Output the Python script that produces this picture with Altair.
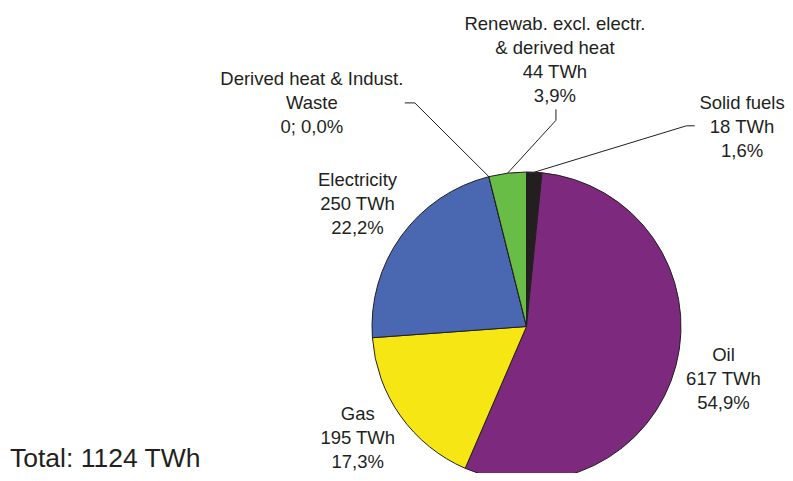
import math
import altair as alt
import pandas as pd

# ---- data ----
categories = ["Solid fuels", "Oil", "Gas", "Electricity",
              "Derived heat & Indust. Waste", "Renewab. excl. electr. & derived heat"]
values_twh = [18, 617, 195, 250, 0, 44]
label_texts = [
    "Solid fuels\n18 TWh\n1,6%",
    "Oil\n617 TWh\n54,9%",
    "Gas\n195 TWh\n17,3%",
    "Electricity\n250 TWh\n22,2%",
    "Derived heat & Indust.\nWaste\n0; 0,0%",
    "Renewab. excl. electr.\n& derived heat\n44 TWh\n3,9%",
]
total_text = "Total: 1124 TWh"

# ---- style / layout ----
colors = ["#231F20", "#7D2A7E", "#F6E614", "#4A67B1", "#FFFFFF", "#67BD45"]
CX, CY, R = 518.5, 318.5, 154.5
LH = 24
# label placement: (angle in degrees clockwise from 12 o'clock or None = slice middle, distance)
label_place = [(48.1, 299), (None, 203.5), (None, 207), (None, 208.5), (316.1, 309.6), (6.1, 267.7)]
# small nudges so that labels stay inside the page
label_nudge = [(-7, 0), (0, 1), (0, -8), (0, 0), (0, 0), (0, 0)]
# leader lines: (end offset, elbow offset) relative to label centre, or None
leader = [((-47.3, -1), (-55.7, -1)), None, None, None,
          ((93, -0.5), (103, -0.5)), ((1, 49), (1, 60))]

total = sum(values_twh)
df = pd.DataFrame({"cat": categories, "value": values_twh, "idx": range(len(categories))})

lab_rows, line_rows = [], []
cum = 0
for i, v in enumerate(values_twh):
    mid = (cum + v / 2) / total * 2 * math.pi
    cum += v
    ang, dist = label_place[i]
    a = mid if ang is None else math.radians(ang)
    lx = CX + dist * math.sin(a) + label_nudge[i][0]
    ly = CY - dist * math.cos(a) + label_nudge[i][1]
    n = label_texts[i].count("\n") + 1
    lab_rows.append({"text": label_texts[i], "x": lx, "y": ly - (n - 1) * LH / 2})
    if leader[i] is not None:
        (ex, ey), (bx, by) = leader[i]
        px, py = CX + R * math.sin(mid), CY - R * math.cos(mid)
        line_rows += [
            {"g": i, "o": 0, "x": lx + ex, "y": ly + ey},
            {"g": i, "o": 1, "x": lx + bx, "y": ly + by},
            {"g": i, "o": 2, "x": px, "y": py},
        ]

labels = pd.DataFrame(lab_rows)
lines = pd.DataFrame(line_rows)

pie = alt.Chart(df).mark_arc(outerRadius=R, stroke="#231F20", strokeWidth=1).encode(
    theta=alt.Theta("value:Q", stack=True),
    color=alt.Color("cat:N", scale=alt.Scale(domain=categories, range=colors), legend=None),
    order=alt.Order("idx:Q"),
    x=alt.value(CX),
    y=alt.value(CY),
)

leaders = alt.Chart(lines).mark_line(color="#231F20", strokeWidth=1).encode(
    x=alt.X("x:Q", scale=None),
    y=alt.Y("y:Q", scale=None),
    detail="g:N",
    order="o:Q",
)

texts = alt.Chart(labels).mark_text(
    font="Liberation Sans", fontSize=18.5, lineHeight=LH, lineBreak="\n",
    align="center", baseline="middle", color="#231F20",
).encode(
    x=alt.X("x:Q", scale=None),
    y=alt.Y("y:Q", scale=None),
    text="text:N",
)

tot = alt.Chart(pd.DataFrame({"t": [total_text]})).mark_text(
    font="Liberation Sans", fontSize=26.5, align="left", baseline="middle", color="#231F20",
).encode(x=alt.value(2), y=alt.value(451), text="t:N")

chart = alt.layer(pie, leaders, texts, tot).properties(
    width=777, height=465, autosize=alt.AutoSizeParams(type="none"), padding=0,
).configure_view(stroke=None)

chart.save("out.html", embed_options={"renderer": "svg", "actions": False})
